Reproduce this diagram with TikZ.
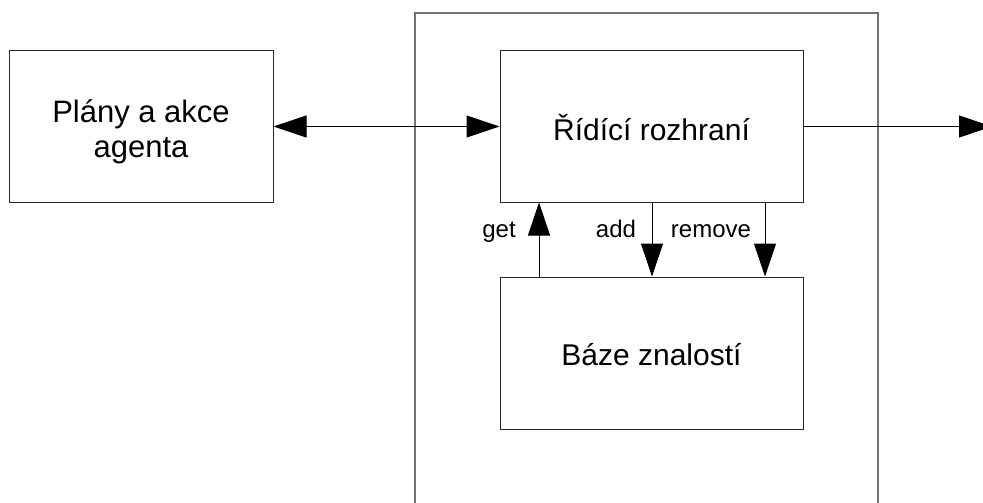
\documentclass[tikz,border=0pt]{standalone}
\usepackage{fontspec}
\setmainfont{Liberation Sans}
\usetikzlibrary{arrows.meta}
\begin{document}
\begin{tikzpicture}[x=1pt,y=-1pt,
  box/.style={draw=black!85, line width=1pt, inner sep=0pt, align=center,
    font=\fontsize{30}{35}\selectfont},
  lbl/.style={anchor=base, inner sep=0pt, font=\fontsize{24}{28}\selectfont},
  conn/.style={draw=black, line width=1pt},
  tip/.style={-{Triangle[length=33pt,width=22pt]}}]
\useasboundingbox (0,0) rectangle (983,503);
% outer container (open at bottom)
\draw[draw=black!55, line width=1.5pt] (415,510) -- (415,13) -- (878,13) -- (878,510);
\node[box, minimum width=264pt, minimum height=151pt, font=\fontsize{31}{35}\selectfont, text height=61pt, text depth=0pt] (plany) at (141,126.5) {Plány a akce\\agenta};
\node[box, minimum width=303pt, minimum height=151pt, text height=27pt, text depth=0pt] (ridici) at (651.5,126.5) {Řídící rozhraní};
\node[box, minimum width=303pt, minimum height=152pt, text height=24pt, text depth=0pt] (baze) at (651.5,353) {Báze znalostí};
\coordinate (out) at (992,126.5);
\coordinate (gx) at (539,0);
\coordinate (ax) at (652,0);
\coordinate (rx) at (765,0);
\draw[conn, {Triangle[length=33pt,width=22pt]}-{Triangle[length=33pt,width=22pt]}] (plany.east) -- (ridici.west);
\draw[conn, tip] (ridici.east) -- (out);
\draw[conn, tip] (baze.north -| gx) -- (ridici.south -| gx);
\draw[conn, tip] (ridici.south -| ax) -- (baze.north -| ax);
\draw[conn, tip] (ridici.south -| rx) -- (baze.north -| rx);
\node[lbl] (lget) at (499,237) {get};
\node[lbl] (ladd) at (616,237) {add};
\node[lbl] (lrem) at (711,237) {remove};
\end{tikzpicture}
\end{document}
